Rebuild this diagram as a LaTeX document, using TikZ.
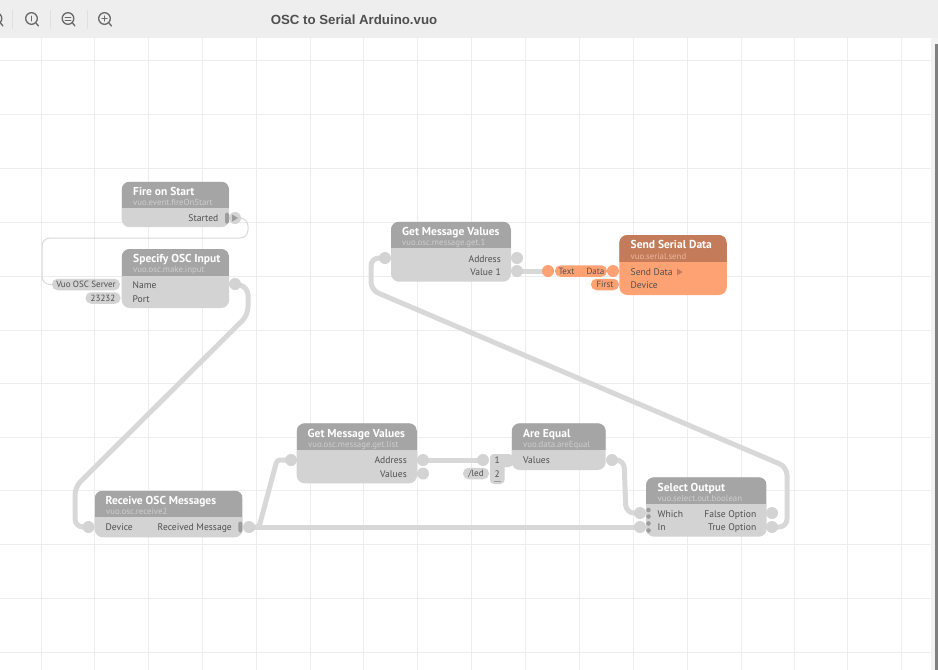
\documentclass[tikz,border=0pt]{standalone}
\usepackage{fontspec}
\setmainfont{PT Sans}
\newfontfamily\barfont{Liberation Sans}
\usetikzlibrary{backgrounds}
\definecolor{gridc}{HTML}{EDEDED}
\definecolor{barc}{HTML}{EEEEEE}
\definecolor{bodyg}{HTML}{D3D3D3}
\definecolor{headg}{HTML}{A5A5A5}
\definecolor{subg}{HTML}{CECECE}
\definecolor{bodyo}{HTML}{FFA273}
\definecolor{heado}{HTML}{C47B5A}
\definecolor{subo}{HTML}{ECB89C}
\definecolor{labelc}{HTML}{4F4F4F}
\definecolor{cablec}{HTML}{D8D8D8}
\definecolor{dotc}{HTML}{9C9C9C}
\tikzset{
  x=1pt,y=-1pt,
  gridline/.style={gridc,line width=0.8pt},
  box/.style={rectangle,rounded corners=8pt,inner sep=0pt,outer sep=0pt},
  ttl/.style={anchor=base west,inner sep=0pt,text=white,font=\fontsize{11.5}{12}\bfseries\selectfont},
  subttl/.style={anchor=base west,inner sep=0pt,font=\fontsize{8.8}{10}\selectfont},
  lbl/.style={inner sep=0pt,text=labelc,font=\fontsize{9.6}{11}\selectfont},
  lbll/.style={lbl,anchor=base west},
  lblr/.style={lbl,anchor=base east},
  portg/.style={circle,fill=bodyg,minimum size=12pt,inner sep=0pt},
  porto/.style={circle,fill=bodyo,minimum size=12pt,inner sep=0pt},
  pillg/.style={rectangle,rounded corners=5.5pt,fill=bodyg,minimum height=11.5pt,inner sep=0pt,text=labelc,font=\fontsize{9}{10}\selectfont},
  pillo/.style={pillg,fill=bodyo},
  cable/.style={cablec,line width=5pt,line join=round,rounded corners=8pt},
  thincable/.style={cablec,line width=1pt,rounded corners=8pt},
  dot/.style={circle,fill=dotc,minimum size=4.6pt,inner sep=0pt},
  stub/.style={rectangle,rounded corners=1.5pt,fill=dotc,minimum width=4pt,minimum height=11pt,inner sep=0pt},
  icon/.style={draw=labelc!85,line width=1.3pt,line cap=round},
  sep/.style={draw=black!12,line width=0.8pt},
}
\begin{document}
\begin{tikzpicture}
\useasboundingbox (0,0) rectangle (938,670);

% nodes -------------------------------------------------------------------
\node[box,fill=bodyg,anchor=north west,minimum width=107.5pt,minimum height=45.5pt] (fire) at (121.7,181.7) {};
\begin{scope}\clip[rounded corners=8pt] (121.7,181.7) rectangle (229.2,227.2); \fill[headg] (121.7,181.7) rectangle (229.2,208); \end{scope}
\node[ttl] (fireT) at (133,195) {Fire on Start};
\node[subttl,text=subg] (fireS) at (133,205) {vuo.event.fireOnStart};
\node[lblr] (fireL) at (218.5,221) {Started};

\node[box,fill=bodyg,anchor=north west,minimum width=107.5pt,minimum height=59pt] (spec) at (121.7,249) {};
\begin{scope}\clip[rounded corners=8pt] (121.7,249) rectangle (229.2,308); \fill[headg] (121.7,249) rectangle (229.2,275.7); \end{scope}
\node[ttl] (specT) at (133,262) {Specify OSC Input};
\node[subttl,text=subg] (specS) at (133,272.5) {vuo.osc.make.input};
\node[lbll] (specN) at (132.5,288) {Name};
\node[lbll] (specP) at (132.5,302) {Port};

\node[box,fill=bodyg,anchor=north west,minimum width=120pt,minimum height=60pt] (get) at (391,221.7) {};
\begin{scope}\clip[rounded corners=8pt] (391,221.7) rectangle (511,281.7); \fill[headg] (391,221.7) rectangle (511,248); \end{scope}
\node[ttl] (getT) at (402,235) {Get Message Values};
\node[subttl,text=subg] (getS) at (402,245.5) {vuo.osc.message.get.1};
\node[lblr] (getA) at (501,262) {Address};
\node[lblr] (getV) at (501,275) {Value 1};

\node[box,fill=bodyo,anchor=north west,minimum width=107.5pt,minimum height=60pt] (send) at (619.3,235) {};
\begin{scope}\clip[rounded corners=8pt] (619.3,235) rectangle (726.8,295); \fill[heado] (619.3,235) rectangle (726.8,261.7); \end{scope}
\node[ttl] (sendT) at (630.5,248.5) {Send Serial Data};
\node[subttl,text=subo] (sendS) at (630.5,259) {vuo.serial.send};
\node[lbll] (sendD) at (630.5,275) {Send Data};
\node[lbll] (sendE) at (630.5,288) {Device};
\fill[heado] (677,268.5) -- (682.5,272) -- (677,275.5) -- cycle;

\node[box,fill=bodyg,anchor=north west,minimum width=120.3pt,minimum height=60pt] (list) at (296.7,423.3) {};
\begin{scope}\clip[rounded corners=8pt] (296.7,423.3) rectangle (417,483.3); \fill[headg] (296.7,423.3) rectangle (417,450); \end{scope}
\node[ttl] (listT) at (307.5,437) {Get Message Values};
\node[subttl,text=subg] (listS) at (308,447) {vuo.osc.message.get.list};
\node[lblr] (listA) at (407,463.5) {Address};
\node[lblr] (listV) at (407,477.5) {Values};

\node[box,fill=bodyg,anchor=north west,minimum width=94pt,minimum height=46.7pt] (eq) at (511.7,423.3) {};
\begin{scope}\clip[rounded corners=8pt] (511.7,423.3) rectangle (605.7,470); \fill[headg] (511.7,423.3) rectangle (605.7,450); \end{scope}
\node[ttl] (eqT) at (523,437) {Are Equal};
\node[subttl,text=subg] (eqS) at (523,447) {vuo.data.areEqual};
\node[lbll] (eqV) at (523,463.5) {Values};

\node[box,fill=bodyg,anchor=north west,minimum width=120.7pt,minimum height=59.4pt] (sel) at (646,477.3) {};
\begin{scope}\clip[rounded corners=8pt] (646,477.3) rectangle (766.7,536.7); \fill[headg] (646,477.3) rectangle (766.7,504); \end{scope}
\node[ttl] (selT) at (657.5,491) {Select Output};
\node[subttl,text=subg] (selS) at (657.5,501) {vuo.select.out.boolean};
\node[lbll] (selW) at (657.5,517) {Which};
\node[lbll] (selI) at (657.5,530.5) {In};
\node[lblr] (selF) at (756.5,517) {False Option};
\node[lblr] (selTr) at (756.5,530.5) {True Option};

\node[box,fill=bodyg,anchor=north west,minimum width=148pt,minimum height=46.6pt] (recv) at (94.7,490.7) {};
\begin{scope}\clip[rounded corners=8pt] (94.7,490.7) rectangle (242.7,537.3); \fill[headg] (94.7,490.7) rectangle (242.7,517.3); \end{scope}
\node[ttl] (recvT) at (105.5,504) {Receive OSC Messages};
\node[subttl,text=subg] (recvS) at (106,514.5) {vuo.osc.receive2};
\node[lbll] (recvD) at (105.5,530.5) {Device};
\node[lblr] (recvM) at (232,530.5) {Received Message};

% ports -------------------------------------------------------------------
\node[stub] (fireStub) at (227,218) {};
\node[portg] (fireOut) at (235,218) {};
\fill[dotc] (232,214.5) -- (238,218) -- (232,221.5) -- cycle;
\node[portg] (specName) at (235,284) {};
\node[pillg,minimum width=68pt] (pillServer) at (86,284.5) {Vuo OSC Server};
\node[pillg,minimum width=35pt] (pillPort) at (103,298) {23232};

\node[portg] (getRef) at (385,258) {};
\node[portg] (getAddr) at (517,258) {};
\node[portg] (getVal) at (517,271) {};

\node[porto] (txtIn) at (548,271) {};
\node[pillo,minimum width=52pt] (txtPill) at (581,271) {};
\node[inner sep=0pt,text=labelc,font=\fontsize{9}{10}\selectfont] (txtL) at (566.5,271.5) {Text};
\node[inner sep=0pt,text=labelc,font=\fontsize{9}{10}\selectfont] (txtR) at (595.5,271.5) {Data};
\node[porto] (txtOut) at (613,271) {};
\node[pillo,minimum width=28pt] (firstPill) at (605,284.5) {First};

\node[portg] (listRef) at (291,460) {};
\node[portg] (listAddr) at (423,460) {};
\node[portg] (listVal) at (423,473.5) {};

\node[portg] (eqIn) at (483,460) {};
\fill[bodyg,rounded corners=4pt] (490,454) rectangle (513,467);
\node[box,fill=bodyg,rounded corners=4pt,minimum width=14.5pt,minimum height=30pt,anchor=north west] (drawer) at (490,454) {};
\node[inner sep=0pt,text=labelc,font=\fontsize{9.4}{10}\selectfont] (d1) at (497.2,460.3) {1};
\node[inner sep=0pt,text=labelc,font=\fontsize{9.4}{10}\selectfont] (d2) at (497.2,474) {2};
\draw[dotc,line width=0.8pt] (494,481.5) -- (500.5,481.5);
\node[pillg,minimum width=26pt] (ledPill) at (476,473.5) {/led};
\node[portg] (eqOut) at (612,460) {};

\node[portg] (selWhich) at (640,513) {};
\node[portg] (selIn) at (640,527) {};
\node[dot] (dotA) at (648.5,510) {};
\node[dot] (dotB) at (648.5,516.5) {};
\node[dot] (dotC) at (648.5,523.5) {};
\node[dot] (dotD) at (648.5,530.5) {};
\node[portg] (selFalse) at (772,513) {};
\node[portg] (selTrue) at (772,527) {};

\node[portg] (recvDev) at (88.5,527) {};
\node[stub] (recvStub) at (240.3,527) {};
\node[portg] (recvMsg) at (249,527) {};

% toolbar -----------------------------------------------------------------
\fill[barc] (0,0) rectangle (938,38);
\draw[sep] (12.5,10) -- (12.5,29);
\draw[sep] (50.5,10) -- (50.5,29);
\draw[sep] (87.5,10) -- (87.5,29);
\draw[icon] (-4,18.5) circle (5.8);
\draw[icon] (0.5,23) -- (3,26);
\draw[icon] (31.5,18.5) circle (5.8);
\draw[icon] (36,23) -- (38.5,26);
\draw[icon,line width=1pt] (31.5,16) -- (31.5,21);
\draw[icon] (68,18.5) circle (5.8);
\draw[icon] (72.5,23) -- (75,26);
\draw[icon,line width=1pt] (65.2,17) -- (70.8,17);
\draw[icon,line width=1pt] (65.2,20) -- (70.8,20);
\draw[icon] (104.5,18.5) circle (5.8);
\draw[icon] (109,23) -- (111.5,26);
\draw[icon,line width=1pt] (101.8,18.5) -- (107.2,18.5);
\draw[icon,line width=1pt] (104.5,15.8) -- (104.5,21.2);
\node[inner sep=0pt,text=labelc,font=\barfont\fontsize{13.25}{15}\bfseries\selectfont] (title) at (354,19.5) {OSC to Serial Arduino.vuo};

% scrollbar
\fill[black!5] (931,38) rectangle (938,670);
\fill[black!50] (935,44) rectangle (938,670);

% grid and cables ---------------------------------------------------------
\begin{scope}[on background layer]
\foreach \gx in {41.7,94.5,148.3,202.3,256.3,310.3,363.8,417.5,471,525,579,633,687,741,794.3,847.5,901.5}
  \draw[gridline] (\gx,38) -- (\gx,670);
\foreach \gy in {60,114,168,222,276,330,383.5,437,490.5,544.5,598.5,652.5}
  \draw[gridline] (0,\gy) -- (931,\gy);
\draw[thincable] (fireOut.center) -- (248,218) -- (248,238) -- (42,238) -- (42,284.5) -- (pillServer.center);
\draw[cable] (specName.center) -- (248,287) -- (248,315) -- (75,487) -- (75,527) -- (recvDev.center);
\draw[cable,rounded corners=3pt] (recvMsg.center) -- (259,527) -- (277,460) -- (listRef.center);
\draw[cable] (recvMsg.center) -- (selIn.center);
\draw[cable] (listAddr.center) -- (eqIn.center);
\draw[cable] (eqOut.center) -- (624,460) -- (626,513) -- (selWhich.center);
\draw[cable] (selTrue.center) -- (787,527) -- (787,467) -- (371,290) -- (371,258) -- (getRef.center);
\draw[cable] (getVal.center) -- (txtIn.center);
\end{scope}
\end{tikzpicture}
\end{document}
